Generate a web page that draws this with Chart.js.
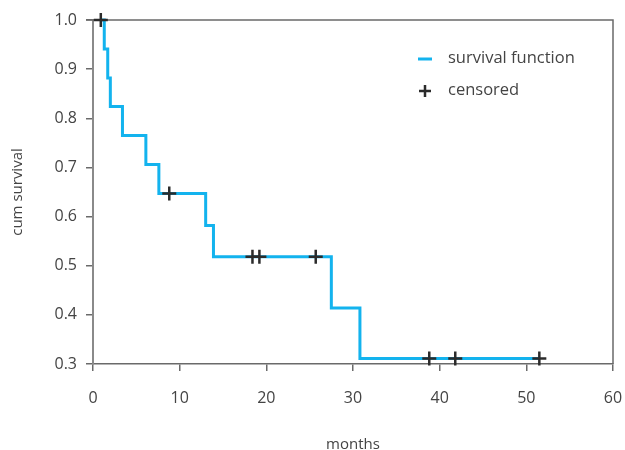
<!DOCTYPE html>
<html>
<head>
<meta charset="utf-8">
<script src="https://cdn.jsdelivr.net/npm/chart.js@4.4.0/dist/chart.umd.min.js"></script>
<style>
    html, body { margin: 0; padding: 0; background: #fff; }
    #wrap { width: 625px; height: 450px; }
</style>
</head>
<body>
<div id="wrap"><canvas id="km-chart" width="625" height="450"></canvas></div>
<script>
// survival curve: step points (months, cumulative survival)
const stepMonths = [0.9, 1.3, 1.7, 2.0, 3.4, 6.1, 7.6, 13.0, 13.9, 27.5, 30.8, 51.5];
const stepSurvival = [1.0, 0.941, 0.882, 0.824, 0.765, 0.706, 0.647, 0.582, 0.518, 0.414, 0.311, 0.311];

// censored observations
const censorMonths = [0.9, 8.8, 18.4, 19.2, 25.7, 38.8, 41.8, 51.5];
const censorSurvival = [1.0, 0.647, 0.518, 0.518, 0.518, 0.311, 0.311, 0.311];

// axis ticks
const xTicks = [0, 10, 20, 30, 40, 50, 60];
const yTicks = [0.3, 0.4, 0.5, 0.6, 0.7, 0.8, 0.9, 1.0];

const lineBlue = '#13b3ee';
const markDark = '#2b2b2b';
const axisGrey = '#6a6a6a';
const textGrey = '#444';
const fontFamily = '"Open Sans", "DejaVu Sans", sans-serif';

const survivalPoints = stepMonths.map((m, i) => ({ x: m, y: stepSurvival[i] }));
const censorPoints = censorMonths.map((m, i) => ({ x: m, y: censorSurvival[i] }));

// draws the top/right frame and the legend inside the plot
const frameAndLegend = {
    id: 'frameAndLegend',
    beforeDatasetsDraw(chart) {
        const { ctx, chartArea } = chart;
        ctx.save();
        ctx.strokeStyle = axisGrey;
        ctx.lineWidth = 1.5;
        ctx.beginPath();
        ctx.moveTo(chartArea.left - 7, chartArea.top);
        ctx.lineTo(chartArea.right, chartArea.top);
        ctx.lineTo(chartArea.right, chartArea.bottom);
        ctx.stroke();
        ctx.restore();
    },
    afterDraw(chart) {
        const ctx = chart.ctx;
        ctx.save();
        // survival function entry
        ctx.strokeStyle = lineBlue;
        ctx.lineWidth = 3;
        ctx.beginPath();
        ctx.moveTo(418, 59);
        ctx.lineTo(432, 59);
        ctx.stroke();
        // censored entry
        ctx.strokeStyle = markDark;
        ctx.lineWidth = 2.5;
        ctx.beginPath();
        ctx.moveTo(419, 91);
        ctx.lineTo(431, 91);
        ctx.moveTo(425, 85);
        ctx.lineTo(425, 97);
        ctx.stroke();
        ctx.fillStyle = textGrey;
        ctx.font = '16.5px ' + fontFamily;
        ctx.textBaseline = 'middle';
        ctx.textAlign = 'left';
        ctx.fillText('survival function', 448, 58);
        ctx.fillText('censored', 448, 90);
        ctx.restore();
    }
};

const ctx = document.getElementById('km-chart').getContext('2d');

new Chart(ctx, {
    type: 'line',
    data: {
        datasets: [
            {
                label: 'survival function',
                data: survivalPoints,
                borderColor: lineBlue,
                borderWidth: 3,
                stepped: true,
                pointRadius: 0,
                fill: false,
                clip: false,
                order: 2
            },
            {
                label: 'censored',
                type: 'scatter',
                data: censorPoints,
                pointStyle: 'cross',
                pointRadius: 7,
                pointBorderWidth: 2.5,
                borderColor: markDark,
                backgroundColor: markDark,
                showLine: false,
                clip: false,
                order: 1
            }
        ]
    },
    options: {
        responsive: false,
        animation: false,
        layout: {
            padding: { top: 20, right: 12, left: 0, bottom: 0 }
        },
        plugins: {
            legend: { display: false },
            tooltip: { enabled: false }
        },
        scales: {
            x: {
                type: 'linear',
                min: 0,
                max: 60,
                afterBuildTicks: scale => { scale.ticks = xTicks.map(v => ({ value: v })); },
                afterFit: scale => {
                    scale.height = 86;
                    scale.paddingLeft = 0;
                    scale.paddingRight = 0;
                },
                grid: {
                    drawOnChartArea: false,
                    drawTicks: true,
                    tickLength: 7,
                    color: axisGrey,
                    lineWidth: 1.5
                },
                border: { display: true, color: axisGrey, width: 1.5 },
                ticks: {
                    padding: 18,
                    color: textGrey,
                    font: { family: fontFamily, size: 16 }
                },
                title: {
                    display: true,
                    text: 'months',
                    color: textGrey,
                    font: { family: fontFamily, size: 15 },
                    padding: { top: 4, bottom: -4 }
                }
            },
            y: {
                type: 'linear',
                min: 0.3,
                max: 1.0,
                afterBuildTicks: scale => { scale.ticks = yTicks.map(v => ({ value: v })); },
                afterFit: scale => {
                    scale.width = 93;
                    scale.paddingTop = 0;
                    scale.paddingBottom = 0;
                },
                grid: {
                    drawOnChartArea: false,
                    drawTicks: true,
                    tickLength: 7,
                    color: axisGrey,
                    lineWidth: 1.5
                },
                border: { display: true, color: '#8a8a8a', width: 2 },
                ticks: {
                    padding: 9,
                    color: textGrey,
                    font: { family: fontFamily, size: 16 },
                    callback: value => value.toFixed(1)
                },
                title: {
                    display: true,
                    text: 'cum survival',
                    color: textGrey,
                    font: { family: fontFamily, size: 15 },
                    padding: { top: 9, bottom: 0 }
                }
            }
        }
    },
    plugins: [frameAndLegend]
});
</script>
</body>
</html>
